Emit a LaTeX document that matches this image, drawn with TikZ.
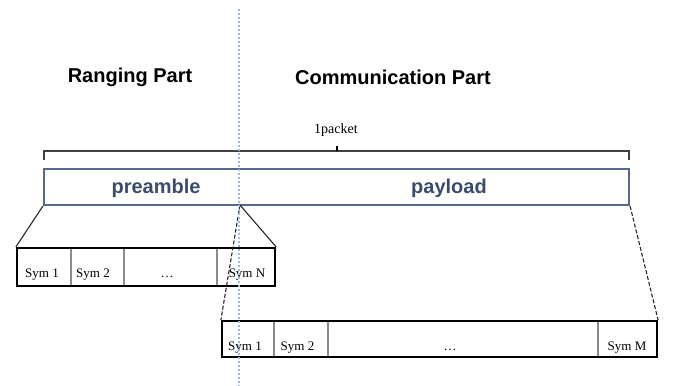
\documentclass[tikz,border=0pt]{standalone}
\usepackage{fontspec}
\setmainfont{Liberation Serif}
\newfontfamily\hv{Liberation Sans}
\definecolor{barblue}{RGB}{84,106,136}
\definecolor{bartext}{RGB}{58,76,106}
\definecolor{divline}{RGB}{160,186,214}
\definecolor{cellgray}{RGB}{140,140,140}
\begin{document}
\begin{tikzpicture}[x=1pt,y=-1pt,
  title/.style={font=\hv\bfseries\fontsize{20}{22}\selectfont, text=black},
  bartxt/.style={font=\hv\bfseries\fontsize{20}{22}\selectfont, text=bartext},
  cell/.style={draw=cellgray, line width=1.3pt, inner sep=0pt, minimum height=#1},
  frame/.style={draw=black, line width=2.2pt, inner sep=0pt},
  sym/.style={font=\fontsize{13}{14}\selectfont, anchor=base, inner sep=0pt},
  conn/.style={line width=1.1pt, draw=black!85}
]
\useasboundingbox (0,0) rectangle (673,386);
% titles
\node[title] (rp) at (130,77) {Ranging Part};
\node[title] (cp) at (393,77) {Communication Part};
% brace
\node[font=\fontsize{14}{16}\selectfont, anchor=base, inner sep=0pt] (lbl) at (336,133) {1packet};
\coordinate (bl) at (44,160);
\coordinate (blt) at (44,151);
\coordinate (brt) at (629,151);
\coordinate (br) at (629,160);
\coordinate (bm) at (337,151);
\coordinate (bmt) at (337,146);
\draw[line width=1.1pt, draw=black!75] (bl) -- (blt) -- (brt) -- (br);
\draw[line width=1.8pt] (bm) -- (bmt);
% packet bar
\node[draw=barblue, line width=2.2pt, minimum width=585pt, minimum height=36pt, inner sep=0pt] (pkt) at (336.5,187) {};
\node[bartxt] (pre) at (156,188) {preamble};
\node[bartxt] (pay) at (449,188) {payload};
\coordinate (split) at (240,205);
% box N cells
\node[cell=38pt, minimum width=54pt] (n1) at (44,267) {};
\node[cell=38pt, minimum width=53pt] (n2) at (97.5,267) {};
\node[cell=38pt, minimum width=93pt] (n3) at (170.5,267) {};
\node[cell=38pt, minimum width=58pt] (n4) at (246,267) {};
\node[frame, minimum width=258pt, minimum height=38pt] (boxN) at (146,267) {};
\node[sym] at (42,277) {Sym 1};
\node[sym] at (93,277) {Sym 2};
\node[sym] at (167,277) {\dots};
\node[sym] at (247,277) {Sym N};
% box M cells
\node[cell=36pt, minimum width=52pt] (m1) at (248,339) {};
\node[cell=36pt, minimum width=54pt] (m2) at (301,339) {};
\node[cell=36pt, minimum width=270pt] (m3) at (463,339) {};
\node[cell=36pt, minimum width=59pt] (m4) at (627.5,339) {};
\node[frame, minimum width=435pt, minimum height=36pt] (boxM) at (439.5,339) {};
\node[sym] at (245,350) {Sym 1};
\node[sym] at (297.5,350) {Sym 2};
\node[sym] at (450,350) {\dots};
\node[sym] at (627,350) {Sym M};
% connectors
\draw[conn] (pkt.south west) -- (boxN.north west);
\draw[conn] (split) -- (boxN.north east);
\draw[conn, dashed, dash pattern=on 4pt off 2pt] (split) -- (boxM.north west);
\draw[conn, dashed, dash pattern=on 4pt off 2pt] (pkt.south east) -- (boxM.north east);
% divider
\coordinate (dtop) at (239,9);
\coordinate (dbot) at (239,386);
\draw[divline, line width=1.5pt, dash pattern=on 2pt off 2pt] (dtop) -- (dbot);
\end{tikzpicture}
\end{document}
